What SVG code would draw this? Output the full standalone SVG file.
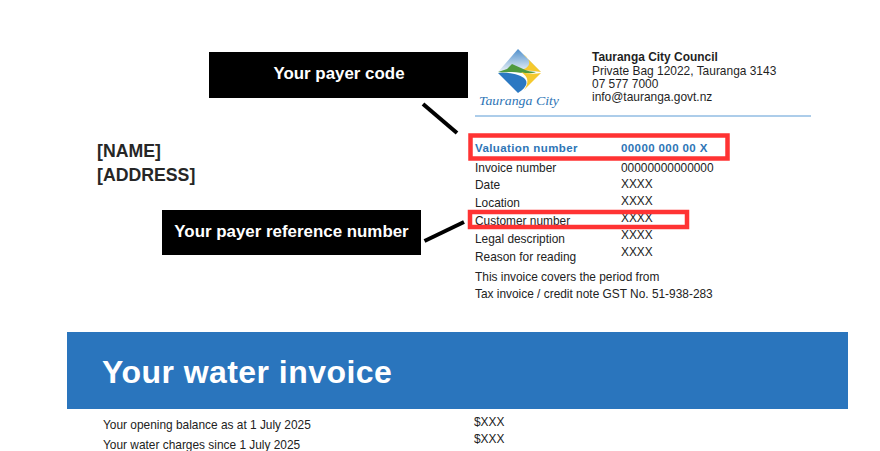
<svg xmlns="http://www.w3.org/2000/svg" width="880" height="451" viewBox="0 0 880 451">
<defs>
<linearGradient id="sky" x1="0" y1="0" x2="0" y2="1"><stop offset="0" stop-color="#4f8fcc"/><stop offset="1" stop-color="#eef4f8"/></linearGradient>
</defs>
<style>
text{font-family:"Liberation Sans",Arial,sans-serif;fill:#222}
.s{font-size:11.9px}
.h{font-size:11.95px;fill:#1f1f1f}
.b{font-size:11.5px;font-weight:bold;fill:#2e75b6;letter-spacing:.4px}
.l{font-size:17.7px;font-weight:bold;fill:#262626}
.c{font-size:16.9px;font-weight:bold;fill:#fff;text-anchor:middle}
.red{fill:none;stroke:#ff3333;stroke-width:4.5}
.ln{stroke:#000;stroke-width:4;fill:none}
</style>
<rect width="880" height="451" fill="#fff"/>
<g id="logo">
<path d="M518 49L541 72H498Z" fill="url(#sky)"/>
<path d="M523 54C533 61 530 68 521 70L534 71L541 72Z" fill="#f5c92e"/>
<path d="M498 72L507 69L512 64L521 68C527 71 532 72 536 72C528 75 520 72 512 72C507 72 502 73 498 72Z" fill="#4f9a3f"/>
<path d="M498 73C508 72 520 74 525 79C529 84 524 89 518 93Z" fill="#2b78c2"/>
<path d="M521 72C528 74 535 74 541 73L524 90C529 83 529 77 521 72Z" fill="#f5c92e"/>
<text x="479" y="105" style="font-family:'Liberation Serif',serif;font-style:italic;font-size:13px;fill:#2e75b6" textLength="80" lengthAdjust="spacingAndGlyphs">Tauranga City</text>
</g>
<g id="address">
<text x="592" y="61" class="h" style="font-weight:bold">Tauranga City Council</text>
<text x="592" y="75" class="h">Private Bag 12022, Tauranga 3143</text>
<text x="592" y="88" class="h">07 577 7000</text>
<text x="592" y="101" class="h">info@tauranga.govt.nz</text>
</g>
<line x1="475" y1="116" x2="811" y2="116" stroke="#5b9bd5" stroke-width="1"/>
<g id="name">
<text x="97" y="157" class="l">[NAME]</text>
<text x="97" y="181" class="l">[ADDRESS]</text>
</g>
<g id="details">
<text x="475" y="152" class="b">Valuation number</text>
<text x="621" y="152" class="b">00000 000 00 X</text>
<text x="475" y="172" class="s">Invoice number</text>
<text x="621" y="172" class="s">00000000000000</text>
<text x="475" y="189" class="s">Date</text>
<text x="621" y="188" class="s">XXXX</text>
<text x="475" y="207" class="s">Location</text>
<text x="621" y="205" class="s">XXXX</text>
<text x="475" y="225" class="s">Customer number</text>
<text x="621" y="222" class="s">XXXX</text>
<text x="475" y="243" class="s">Legal description</text>
<text x="621" y="239" class="s">XXXX</text>
<text x="475" y="261" class="s">Reason for reading</text>
<text x="621" y="256" class="s">XXXX</text>
<text x="475" y="281" class="s">This invoice covers the period from</text>
<text x="475" y="298" class="s">Tax invoice / credit note GST No. 51-938-283</text>
</g>
<g id="banner">
<rect x="67" y="332" width="781" height="77" fill="#2a75bd"/>
<text x="102" y="383" style="font-size:32px;font-weight:bold;fill:#fff;letter-spacing:.45px">Your water invoice</text>
</g>
<g id="charges">
<text x="103" y="429" class="s">Your opening balance as at 1 July 2025</text>
<text x="474" y="426" class="s">$XXX</text>
<text x="103" y="449" class="s">Your water charges since 1 July 2025</text>
<text x="474" y="443" class="s">$XXX</text>
</g>
<g id="callout-payer-code">
<rect x="209" y="52" width="259" height="46" fill="#000"/>
<text x="339" y="79" class="c">Your payer code</text>
</g>
<g id="callout-payer-reference">
<rect x="162" y="210" width="259" height="45" fill="#000"/>
<text x="291.500" y="237" class="c">Your payer reference number</text>
</g>
<g id="highlights">
<rect x="470.500" y="135.500" width="257" height="23" class="red"/>
<rect x="470" y="212" width="217" height="15" class="red"/>
</g>
<g id="connectors">
<line x1="423" y1="104" x2="457" y2="133" class="ln"/>
<line x1="424.500" y1="241" x2="464" y2="222" class="ln"/>
</g>
</svg>
